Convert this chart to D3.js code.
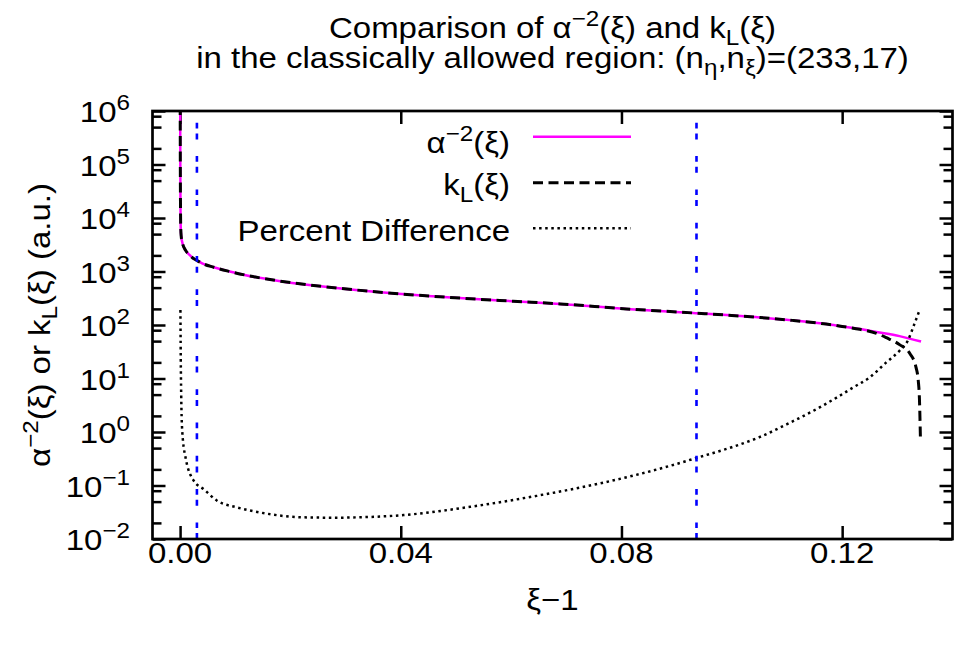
<!DOCTYPE html>
<html><head><meta charset="utf-8">
<script src="https://cdn.jsdelivr.net/npm/d3@7"></script>
<style>
body{margin:0;background:#fff}
svg{display:block}
text{font-family:"Liberation Sans",Arial,Helvetica,sans-serif;fill:#000}
</style>
</head><body>
<svg id="c" width="955" height="646"></svg>
<script>
// ---- data ----
const xiAlpha = [0.00002,0.00004,0.00007,0.00012,0.0002,0.0004,0.001,0.0018,0.0025,0.0031,0.0040,0.0061,0.009,0.0121,0.0182,0.0242,0.0363,0.0484,0.0604,0.0689,0.0809,0.093,0.1051,0.111,0.1171,0.12,0.1232,0.1262,0.1304,0.1343];
const alphaVals = [1.3e6,1.2e5,2.0e4,6500,4600,3500,2480,2000,1730,1600,1420,1200,1000,845,660,548,410,330,278,248,200,168,138,122,104,94,84,74,62,49];

const xiKL = [0.00002,0.00004,0.00007,0.00012,0.0002,0.0004,0.001,0.0018,0.0025,0.0031,0.0040,0.0061,0.009,0.0121,0.0182,0.0242,0.0363,0.0484,0.0604,0.0689,0.0809,0.093,0.1051,0.111,0.1171,0.12,0.1232,0.1262,0.128,0.1304,0.1323,0.1334,0.1338,0.1340,0.1342];
const kLVals = [1.3e6,1.2e5,2.0e4,6500,4600,3500,2480,2000,1730,1600,1420,1200,1000,845,660,548,410,330,278,248,200,168,138,122,104,94,83,70,58,43,29,16,9,4.4,0.65];

const xiPct = [0.00006,0.00008,0.00012,0.0002,0.0004,0.001,0.0025,0.0043,0.0067,0.0103,0.0127,0.0164,0.0218,0.028,0.0314,0.0405,0.0526,0.0646,0.0767,0.0888,0.0937,0.1,0.105,0.11,0.1159,0.119,0.122,0.125,0.128,0.1304,0.1319,0.1331,0.134];
const pctVals = [190,90,25,5,1.0,0.33,0.122,0.085,0.052,0.039,0.034,0.029,0.0255,0.025,0.0253,0.028,0.04,0.064,0.113,0.233,0.33,0.52,0.8,1.4,2.88,4.4,6.8,10.5,20,33,51,105,185];

const xTickVals = [0, 0.04, 0.08, 0.12];
const xTickLabels = ["0.00", "0.04", "0.08", "0.12"];
const yExponents = [-2,-1,0,1,2,3,4,5,6];
const yMinorMult = [2,5,8];
const markerXi = [0.00305, 0.0936];
const seriesNames = ["alpha", "kL", "pct"];

// ---- setup ----
const svg = d3.select("#c");
const x = d3.scaleLinear().domain([-0.005, 0.14]).range([152.5, 952.5]);
const y = d3.scaleLog().domain([1e-2, 1e6]).range([539, 111]);
const [X0, X1] = x.range();
const [Y0, Y1] = y.range();

function txt(parent, tx, ty, segs, anchor, rot, size) {
  size = size || 30;
  const t = parent.append("text")
    .attr("transform", `translate(${tx},${ty}) rotate(${rot||0}) scale(1.1,1)`)
    .attr("text-anchor", anchor || "start")
    .attr("font-size", size);
  let cur = 0;
  segs.forEach(s => {
    const sh = s.sup ? -12 : (s.sub ? 7 : 0);
    t.append("tspan").attr("dy", sh - cur)
      .attr("font-size", (s.sup || s.sub) ? 22 : size).text(s.t);
    cur = sh;
  });
  return t;
}

// clip
svg.append("defs").append("clipPath").attr("id", "clip")
  .append("rect").attr("x", X0).attr("y", Y1).attr("width", X1 - X0).attr("height", Y0 - Y1);

// ticks via axes
const yMajor = yExponents.map(e => Math.pow(10, e));
const yMinor = [];
yExponents.slice(0, -1).forEach(e => yMinorMult.forEach(m => yMinor.push(m * Math.pow(10, e))));

function styleAxis(g) {
  g.select(".domain").remove();
  g.selectAll(".tick line").attr("stroke", "#000").attr("stroke-width", 2.5);
}
svg.append("g").attr("transform", `translate(0,${Y0})`)
  .call(d3.axisBottom(x).tickValues(xTickVals).tickSize(-13).tickFormat("")).call(styleAxis);
svg.append("g").attr("transform", `translate(0,${Y1})`)
  .call(d3.axisTop(x).tickValues(xTickVals).tickSize(-13).tickFormat("")).call(styleAxis);
svg.append("g").attr("transform", `translate(${X0},0)`)
  .call(d3.axisLeft(y).tickValues(yMajor).tickSize(-13).tickFormat("")).call(styleAxis);
svg.append("g").attr("transform", `translate(${X0},0)`)
  .call(d3.axisLeft(y).tickValues(yMinor).tickSize(-9).tickFormat("")).call(styleAxis);
svg.append("g").attr("transform", `translate(${X1},0)`)
  .call(d3.axisRight(y).tickValues(yMajor).tickSize(-13).tickFormat("")).call(styleAxis);
svg.append("g").attr("transform", `translate(${X1},0)`)
  .call(d3.axisRight(y).tickValues(yMinor).tickSize(-9).tickFormat("")).call(styleAxis);

// curves
const line = d3.line().x(d => x(d[0])).y(d => y(d[1])).curve(d3.curveMonotoneX);
const plot = svg.append("g").attr("clip-path", "url(#clip)");
const alphaData = xiAlpha.map((v, i) => [v, alphaVals[i]]);
const kLData = xiKL.map((v, i) => [v, kLVals[i]]);
const pctData = xiPct.map((v, i) => [v, pctVals[i]]);
const styles = {
  alpha: {stroke: "#ff00ff", w: 2.5, dash: null},
  kL: {stroke: "#000", w: 3, dash: "10,5.5"},
  pct: {stroke: "#000", w: 2.5, dash: "2.5,3.6"}
};
[[alphaData, "alpha"], [kLData, "kL"], [pctData, "pct"]].forEach(([d, k]) => {
  plot.append("path").datum(d).attr("d", line).attr("fill", "none")
    .attr("stroke", styles[k].stroke).attr("stroke-width", styles[k].w)
    .attr("stroke-dasharray", styles[k].dash);
});

// blue markers
markerXi.forEach(v => {
  svg.append("line").attr("x1", x(v)).attr("x2", x(v)).attr("y1", Y1).attr("y2", Y0)
    .attr("stroke", "#0000ff").attr("stroke-width", 2.6)
    .attr("stroke-dasharray", "5.7,5,6,16.6").attr("stroke-dashoffset", 21.5);
});

// frame
svg.append("rect").attr("x", X0).attr("y", Y1).attr("width", X1 - X0).attr("height", Y0 - Y1)
  .attr("fill", "none").attr("stroke", "#000").attr("stroke-width", 2.7);

// tick labels
xTickVals.forEach((v, i) => txt(svg, x(v), 563, [{t: xTickLabels[i]}], "middle"));
yExponents.forEach(e => {
  txt(svg, 130, y(Math.pow(10, e)) + 11,
    [{t: "10"}, {t: e < 0 ? "\u2212" + (-e) : String(e), sup: true}], "end");
});

// axis labels
txt(svg, 552.5, 610, [{t: "\u03be\u22121"}], "middle");
txt(svg, 50, 325, [{t: "\u03b1"}, {t: "\u22122", sup: true}, {t: "(\u03be) or k"}, {t: "L", sub: true}, {t: "(\u03be) (a.u.)"}], "middle", -90);

// title
txt(svg, 552.5, 38, [{t: "Comparison of \u03b1"}, {t: "\u22122", sup: true}, {t: "(\u03be) and k"}, {t: "L", sub: true}, {t: "(\u03be)"}], "middle");
txt(svg, 552.5, 68, [{t: "in the classically allowed region: (n"}, {t: "\u03b7", sub: true}, {t: ",n"}, {t: "\u03be", sub: true}, {t: ")=(233,17)"}], "middle");

// legend
const legendY = [136.7, 182.7, 228.3];
const legendBase = [153, 195, 240.7];
const legendSegs = [
  [{t: "\u03b1"}, {t: "\u22122", sup: true}, {t: "(\u03be)"}],
  [{t: "k"}, {t: "L", sub: true}, {t: "(\u03be)"}],
  [{t: "Percent Difference"}]
];
seriesNames.forEach((k, i) => {
  txt(svg, 510, legendBase[i], legendSegs[i], "end");
  svg.append("line").attr("x1", 533).attr("x2", 631).attr("y1", legendY[i]).attr("y2", legendY[i])
    .attr("stroke", styles[k].stroke).attr("stroke-width", styles[k].w)
    .attr("stroke-dasharray", styles[k].dash);
});
</script>
</body></html>
